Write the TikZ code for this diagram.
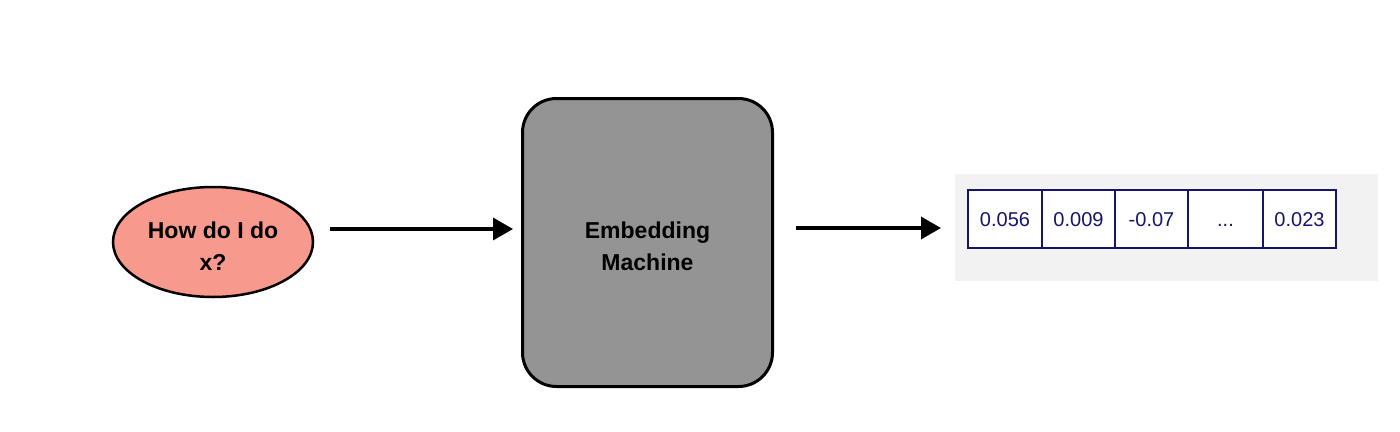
\documentclass[tikz,border=0pt]{standalone}
\usepackage{fontspec}
\setmainfont{Liberation Sans}
\usetikzlibrary{arrows.meta,shapes.geometric}
\definecolor{salmon}{HTML}{F7998C}
\definecolor{boxgray}{HTML}{949494}
\definecolor{panel}{HTML}{F2F2F2}
\definecolor{navy}{HTML}{16136B}
\tikzset{
  inq/.style={ellipse, draw=black, line width=2.5pt, fill=salmon, minimum width=200pt, minimum height=110pt, inner sep=0pt},
  machine/.style={draw=black, line width=3pt, fill=boxgray, rounded corners=34pt, minimum width=250pt, minimum height=288pt},
  boldtxt/.style={align=center, inner sep=0pt, font=\fontsize{23}{32}\selectfont\bfseries},
  flow/.style={line width=3.5pt, -{Triangle[length=20pt,width=22pt]}},
  cell/.style={draw=navy, line width=2.5pt, fill=white, minimum height=58pt, inner sep=0pt, text=navy, text height=14pt, text depth=0pt, font=\fontsize{20}{22}\selectfont},
}
\begin{document}
\begin{tikzpicture}[x=1pt,y=-1pt]
\useasboundingbox (0,0) rectangle (1400,431);
\node[inq] (q) at (213,242) {};
\node[boldtxt] (qt) at ([yshift=-4pt]q.center) {How do I do\\x?};
\node[machine] (m) at (647.5,242.5) {};
\node[boldtxt] (mt) at ([yshift=-4pt]m.center) {Embedding\\Machine};
\fill[panel] (955,174) rectangle (1378,281);
\node[cell, minimum width=74pt] (c1) at (1005,219) {0.056};
\node[cell, minimum width=73pt] (c2) at (1078.5,219) {0.009};
\node[cell, minimum width=73pt] (c3) at (1151.5,219) {-0.07};
\node[cell, minimum width=75pt] (c4) at (1225.5,219) {...};
\node[cell, minimum width=73pt] (c5) at (1299.5,219) {0.023};
\coordinate (a1s) at (330,229);
\coordinate (a1e) at (513,229);
\coordinate (a2s) at (796,228);
\coordinate (a2e) at (941,228);
\draw[flow] (a1s) -- (a1e);
\draw[flow] (a2s) -- (a2e);
\end{tikzpicture}
\end{document}
